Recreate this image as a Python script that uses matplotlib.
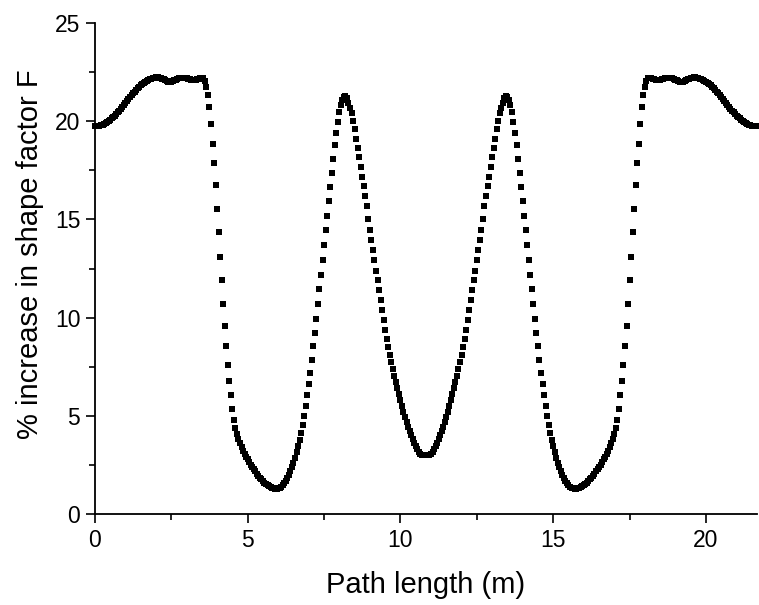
import numpy as np
import matplotlib
matplotlib.use("Agg")
import matplotlib.pyplot as plt
from matplotlib.ticker import MultipleLocator

plt.rcParams["font.family"] = ["Liberation Sans", "DejaVu Sans"]

# path length step between samples (m)
step = 0.05

# % increase in shape factor, every 0.05 m (0 .. 10.80 m)
pct_first_half = [
    19.75, 19.75, 19.76, 19.78, 19.80, 19.83, 19.87, 19.91, 19.96, 20.01,
    20.07, 20.14, 20.21, 20.29, 20.37, 20.45, 20.54, 20.63, 20.72, 20.82,
    20.92, 21.02, 21.12, 21.22, 21.32, 21.42, 21.51, 21.60, 21.68, 21.76,
    21.83, 21.90, 21.96, 22.01, 22.06, 22.10, 22.14, 22.17, 22.20, 22.22,
    22.23, 22.23, 22.22, 22.20, 22.17, 22.13, 22.08, 22.04, 22.01, 22.00,
    22.01, 22.04, 22.08, 22.12, 22.16, 22.19, 22.21, 22.22, 22.22, 22.21,
    22.19, 22.16, 22.13, 22.11, 22.10, 22.10, 22.11, 22.14, 22.17, 22.19,
    22.20, 22.18, 22.05, 21.75, 21.35, 20.70, 19.85, 18.85, 17.85, 16.75,
    15.55, 14.35, 13.10, 11.90, 10.70, 9.60, 8.55, 7.60, 6.80, 6.05,
    5.35, 4.80, 4.40, 4.10, 3.85, 3.62, 3.42, 3.24, 3.08, 2.93,
    2.79, 2.66, 2.53, 2.41, 2.29, 2.18, 2.07, 1.97, 1.87, 1.78,
    1.69, 1.61, 1.54, 1.48, 1.42, 1.38, 1.34, 1.32, 1.31, 1.31,
    1.33, 1.36, 1.41, 1.48, 1.57, 1.69, 1.83, 1.99, 2.18, 2.39,
    2.62, 2.87, 3.15, 3.45, 3.78, 4.15, 4.55, 5.00, 5.50, 6.05,
    6.62, 7.21, 7.86, 8.54, 9.23, 9.94, 10.69, 11.45, 12.20, 12.95,
    13.70, 14.45, 15.20, 15.95, 16.65, 17.38, 18.10, 18.80, 19.40, 19.95,
    20.45, 20.85, 21.10, 21.23, 21.27, 21.18, 20.95, 20.65, 20.40, 20.00,
    19.60, 19.10, 18.65, 18.20, 17.65, 17.15, 16.70, 16.20, 15.70, 15.05,
    14.45, 13.95, 13.45, 12.92, 12.40, 11.90, 11.40, 10.90, 10.40, 9.90,
    9.40, 8.93, 8.50, 8.10, 7.75, 7.40, 7.05, 6.72, 6.40, 6.10,
    5.80, 5.50, 5.22, 4.95, 4.70, 4.46, 4.23, 4.01, 3.81, 3.62,
    3.45, 3.30, 3.18, 3.09, 3.03, 3.00, 2.99,
]

# 10.85 .. 21.65 m
pct_second_half = [
    2.99, 3.00, 3.03, 3.09, 3.18, 3.30, 3.45,
    3.62, 3.81, 4.01, 4.23, 4.46, 4.70, 4.95, 5.22, 5.50, 5.80,
    6.10, 6.40, 6.72, 7.05, 7.40, 7.75, 8.10, 8.50, 8.93, 9.40,
    9.90, 10.40, 10.90, 11.40, 11.90, 12.40, 12.92, 13.45, 13.95, 14.45,
    15.05, 15.70, 16.20, 16.70, 17.15, 17.65, 18.20, 18.65, 19.10, 19.60,
    20.00, 20.40, 20.65, 20.95, 21.18, 21.27, 21.23, 21.10, 20.85, 20.45,
    19.95, 19.40, 18.80, 18.10, 17.38, 16.65, 15.95, 15.20, 14.45, 13.70,
    12.95, 12.20, 11.45, 10.69, 9.94, 9.23, 8.54, 7.86, 7.21, 6.62,
    6.05, 5.50, 5.00, 4.55, 4.15, 3.78, 3.45, 3.15, 2.87, 2.62,
    2.39, 2.18, 1.99, 1.83, 1.69, 1.57, 1.48, 1.41, 1.36, 1.33,
    1.31, 1.31, 1.32, 1.34, 1.38, 1.42, 1.48, 1.54, 1.61, 1.69,
    1.78, 1.87, 1.97, 2.07, 2.18, 2.29, 2.41, 2.53, 2.66, 2.79,
    2.93, 3.08, 3.24, 3.42, 3.62, 3.85, 4.10, 4.40, 4.80, 5.35,
    6.05, 6.80, 7.60, 8.55, 9.60, 10.70, 11.90, 13.10, 14.35, 15.55,
    16.75, 17.85, 18.85, 19.85, 20.70, 21.35, 21.75, 22.05, 22.18, 22.20,
    22.19, 22.17, 22.14, 22.11, 22.10, 22.10, 22.11, 22.13, 22.16, 22.19,
    22.21, 22.22, 22.22, 22.21, 22.19, 22.16, 22.12, 22.08, 22.04, 22.01,
    22.00, 22.01, 22.04, 22.08, 22.13, 22.17, 22.20, 22.22, 22.23, 22.23,
    22.22, 22.20, 22.17, 22.14, 22.10, 22.06, 22.01, 21.96, 21.90, 21.83,
    21.76, 21.68, 21.60, 21.51, 21.42, 21.32, 21.22, 21.12, 21.02, 20.92,
    20.82, 20.72, 20.63, 20.54, 20.45, 20.37, 20.29, 20.21, 20.14, 20.07,
    20.01, 19.96, 19.91, 19.87, 19.83, 19.80, 19.78, 19.76, 19.75, 19.75,
]

pct = np.array(pct_first_half + pct_second_half)
path = np.arange(len(pct)) * step

fig = plt.figure(figsize=(7.59, 6.05), dpi=100)
ax = fig.add_axes([0.125, 0.150, 0.872, 0.812])

ax.plot(path, pct, ls="none", marker="s", ms=4.4, mew=0, color="black", clip_on=False)

ax.set_xlim(0, 21.66)
ax.set_ylim(0, 25)

ax.spines["top"].set_visible(False)
ax.spines["right"].set_visible(False)
for s in ["left", "bottom"]:
    ax.spines[s].set_linewidth(1.3)

ax.xaxis.set_major_locator(MultipleLocator(5))
ax.xaxis.set_minor_locator(MultipleLocator(2.5))
ax.yaxis.set_major_locator(MultipleLocator(5))
ax.yaxis.set_minor_locator(MultipleLocator(2.5))
ax.tick_params(which="major", direction="out", length=6.5, width=1.2, labelsize=16.5, pad=4)
ax.tick_params(which="minor", direction="out", length=4, width=1.2)

ax.set_xlabel("Path length (m)", fontsize=21, labelpad=14)
ax.set_ylabel("% increase in shape factor F", fontsize=21, labelpad=8, y=0.53)

fig.savefig("out.png", dpi=100)
